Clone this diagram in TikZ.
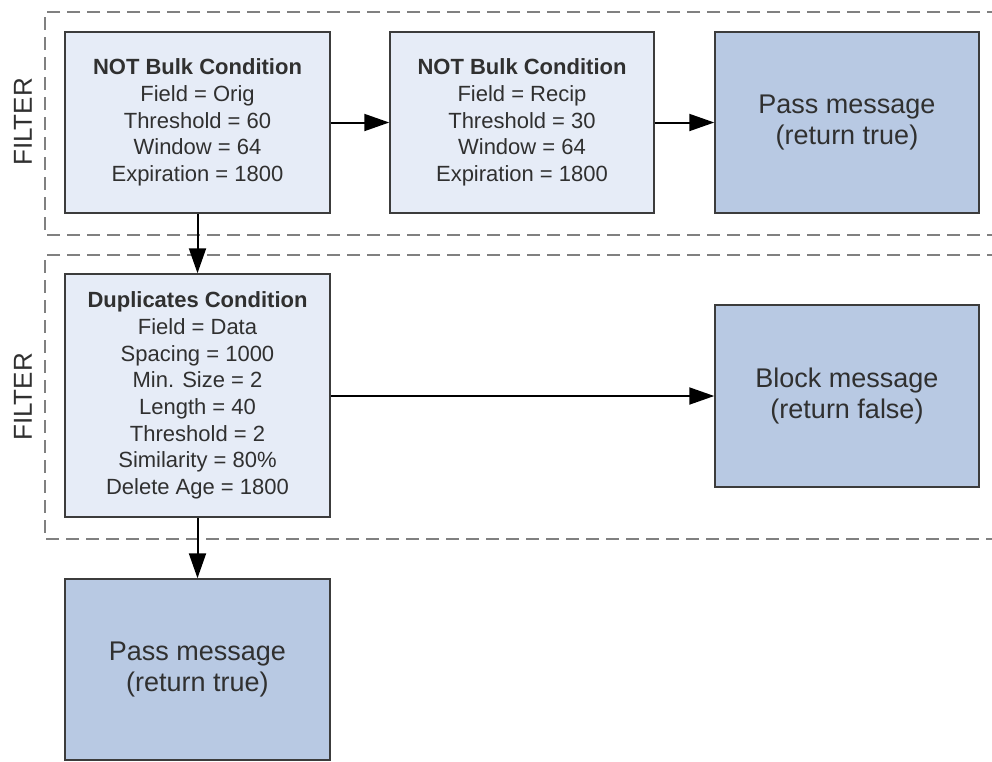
\documentclass[tikz,border=0pt]{standalone}
\usepackage{fontspec}
\setmainfont{Liberation Sans}
\usetikzlibrary{arrows.meta}
\definecolor{condfill}{HTML}{E6ECF7}
\definecolor{resultfill}{HTML}{B8C9E3}
\definecolor{boxline}{HTML}{3C3C3C}
\definecolor{frameline}{HTML}{808080}
\definecolor{labeltext}{HTML}{303030}
\tikzset{
  condbox/.style={draw=boxline, line width=1.5pt, fill=condfill, inner sep=0pt,
    minimum width=265pt, align=center, text=labeltext,
    font={\fontsize{22pt}{26.7pt}\selectfont}},
  resultbox/.style={draw=boxline, line width=1.5pt, fill=resultfill, inner sep=0pt,
    minimum width=264pt, minimum height=182pt, align=center, text=labeltext,
    font={\fontsize{27pt}{31pt}\selectfont}},
  filterframe/.style={draw=frameline, line width=2pt, dash pattern=on 13pt off 7pt},
  filterlabel/.style={rotate=90, text=labeltext, font={\fontsize{26pt}{30pt}\selectfont}},
  flow/.style={draw=black, line width=2pt, -{Triangle[length=25pt,width=17pt]}}
}
\begin{document}
\begin{tikzpicture}[x=1pt,y=-1pt]
\useasboundingbox (0,0) rectangle (992,761);

% filter frames, open on the right
\draw[filterframe] (1000,12) -- (45,12) -- (45,235) -- (1000,235);
\draw[filterframe] (1000,255) -- (45,255) -- (45,539) -- (1000,539);
\node[filterlabel] (f1) at (23,122) {FILTER};
\node[filterlabel] (f2) at (23,397) {FILTER};

% first filter
\node[condbox, minimum height=181pt] (bulkorig) at (197.5,122.5)
  {\textbf{NOT Bulk Condition}\\Field = Orig\\Threshold = 60\\Window = 64\\Expiration = 1800};
\node[condbox, minimum width=264pt, minimum height=181pt] (bulkrecip) at (522,122.5)
  {\textbf{NOT Bulk Condition}\\Field = Recip\\Threshold = 30\\Window = 64\\Expiration = 1800};
\node[resultbox, minimum height=181pt] (pass1) at (847,122.5)
  {Pass message\\(return true)};

% second filter
\node[condbox, minimum height=243pt] (dup) at (197.5,395.5)
  {\textbf{Duplicates Condition}\\Field = Data\\Spacing = 1000\\Min. Size = 2\\Length = 40\\Threshold = 2\\Similarity = 80\%\\Delete Age = 1800};
\node[resultbox] (block) at (847,396)
  {Block message\\(return false)};

\node[resultbox, minimum width=265pt, minimum height=181pt] (pass2) at (197.5,669.5)
  {Pass message\\(return true)};

% connectors
\draw[flow] (bulkorig) -- (bulkrecip);
\draw[flow] (bulkrecip) -- (pass1);
\draw[flow] (bulkorig) -- (dup);
\draw[flow] (dup.east |- block.west) -- (block);
\draw[flow] (dup) -- (pass2);
\end{tikzpicture}
\end{document}
